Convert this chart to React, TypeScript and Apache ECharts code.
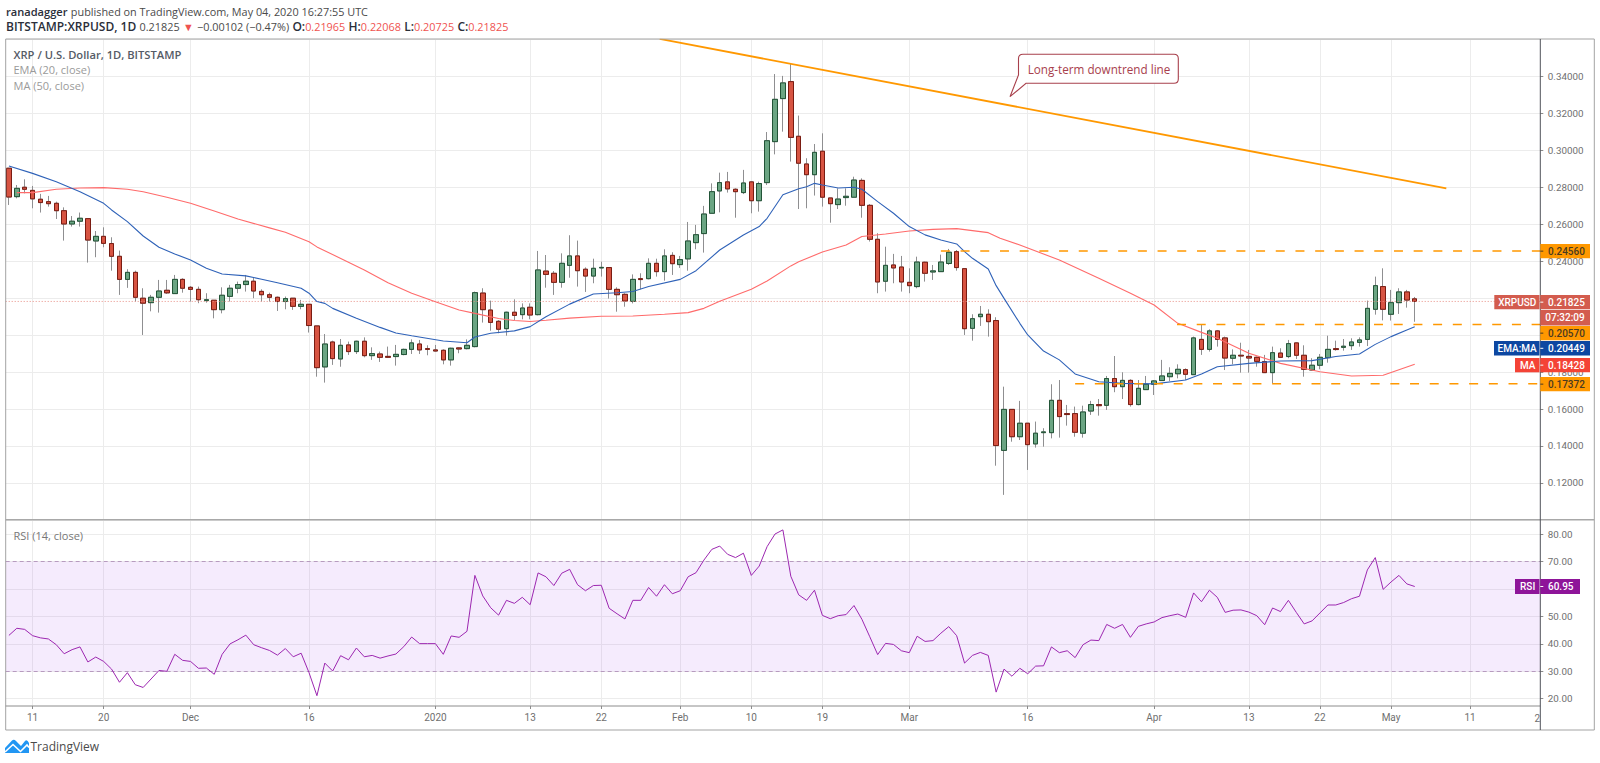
import React, { useEffect, useRef } from "react";
import * as echarts from "echarts";

const ohlc: number[][] = [
[.2904,.2748,.2705,.2906],[.2750,.2795,.2741,.2813],[.2801,.2790,.2768,.2844],[.2784,.2738,.2687,.2808],[.2736,.2718,.2664,.2765],
[.2723,.2712,.2696,.2754],[.2714,.2674,.2629,.2723],[.2674,.2602,.2512,.2692],[.2602,.2617,.2588,.2645],[.2617,.2633,.2588,.2664],
[.2631,.2515,.2393,.2631],[.2510,.2535,.2422,.2564],[.2535,.2497,.2476,.2584],[.2496,.2427,.2349,.2530],[.2427,.2302,.2218,.2458],
[.2302,.2340,.2256,.2357],[.2340,.2205,.2182,.2349],[.2200,.2173,.2001,.2254],[.2176,.2205,.2129,.2218],[.2205,.2239,.2122,.2299],
[.2243,.2229,.2223,.2299],[.2225,.2302,.2223,.2326],[.2302,.2254,.2230,.2308],[.2259,.2248,.2182,.2266],[.2248,.2192,.2173,.2263],
[.2187,.2192,.2176,.2227],[.2189,.2138,.2091,.2190],[.2138,.2216,.2118,.2259],[.2210,.2254,.2182,.2272],[.2254,.2274,.2227,.2290],
[.2274,.2292,.2236,.2326],[.2292,.2239,.2200,.2312],[.2237,.2219,.2182,.2248],[.2219,.2205,.2182,.2230],[.2205,.2182,.2131,.2209],
[.2182,.2198,.2140,.2209],[.2200,.2156,.2137,.2200],[.2156,.2167,.2140,.2191],[.2167,.2052,.2014,.2167],[.2050,.1824,.1775,.2050],
[.1828,.1952,.1743,.2006],[.1963,.1873,.1839,.1970],[.1871,.1945,.1829,.1979],[.1947,.1911,.1893,.1965],[.1911,.1967,.1898,.1970],
[.1967,.1889,.1880,.1988],[.1889,.1900,.1866,.1934],[.1898,.1880,.1855,.1911],[.1885,.1880,.1876,.1938],[.1884,.1896,.1835,.1947],
[.1895,.1923,.1891,.1927],[.1923,.1958,.1898,.1977],[.1952,.1920,.1898,.1974],[.1927,.1923,.1891,.1945],[.1920,.1914,.1911,.1947],
[.1918,.1866,.1842,.1923],[.1866,.1929,.1835,.1932],[.1931,.1925,.1902,.1934],[.1927,.1945,.1923,.1977],[.1938,.2230,.1934,.2236],
[.2228,.2138,.2068,.2254],[.2136,.2069,.2024,.2187],[.2075,.2032,.2010,.2082],[.2035,.2124,.1997,.2127],[.2124,.2107,.2082,.2194],
[.2111,.2147,.2086,.2172],[.2151,.2109,.2086,.2172],[.2111,.2353,.2107,.2456],[.2347,.2329,.2257,.2434],[.2335,.2286,.2218,.2347],
[.2286,.2389,.2257,.2443],[.2378,.2429,.2311,.2541],[.2429,.2349,.2263,.2512],[.2357,.2320,.2234,.2367],[.2320,.2362,.2281,.2414],
[.2364,.2367,.2317,.2398],[.2366,.2248,.2198,.2367],[.2248,.2219,.2127,.2259],[.2221,.2185,.2154,.2227],[.2183,.2302,.2172,.2329],
[.2306,.2301,.2248,.2335],[.2306,.2389,.2302,.2416],[.2389,.2344,.2317,.2414],[.2344,.2429,.2295,.2465],[.2432,.2387,.2326,.2449],
[.2382,.2409,.2364,.2429],[.2413,.2510,.2349,.2613],[.2501,.2544,.2465,.2597],[.2550,.2656,.2447,.2700],[.2660,.2777,.2660,.2822],
[.2781,.2826,.2665,.2880],[.2830,.2792,.2772,.2884],[.2790,.2777,.2636,.2795],[.2772,.2824,.2764,.2895],[.2830,.2728,.2660,.2833],
[.2728,.2821,.2669,.2831],[.2826,.3053,.2813,.3100],[.3048,.3277,.2979,.3414],[.3281,.3366,.3102,.3404],[.3373,.3071,.2940,.3472],
[.3077,.2931,.2683,.3189],[.2927,.2869,.2687,.2958],[.2869,.2990,.2756,.3035],[.2996,.2747,.2696,.3093],[.2743,.2712,.2609,.2743],
[.2707,.2737,.2683,.2795],[.2745,.2752,.2701,.2795],[.2747,.2840,.2747,.2858],[.2838,.2703,.2636,.2849],[.2703,.2519,.2507,.2710],
[.2519,.2288,.2227,.2552],[.2292,.2378,.2236,.2479],[.2380,.2364,.2281,.2440],[.2369,.2288,.2236,.2429],[.2286,.2268,.2227,.2362],
[.2263,.2396,.2254,.2425],[.2395,.2335,.2290,.2398],[.2342,.2348,.2299,.2380],[.2344,.2396,.2344,.2436],[.2388,.2449,.2380,.2467],
[.2452,.2366,.2349,.2461],[.2360,.2035,.2001,.2360],[.2037,.2089,.1970,.2113],[.2100,.2113,.2050,.2158],[.2113,.2073,.1992,.2140],
[.2079,.1402,.1293,.2097],[.1376,.1598,.1135,.1721],[.1598,.1450,.1423,.1598],[.1450,.1523,.1432,.1644],[.1523,.1407,.1270,.1523],
[.1411,.1469,.1391,.1532],[.1472,.1476,.1396,.1496],[.1472,.1647,.1441,.1734],[.1647,.1559,.1445,.1757],[.1575,.1570,.1510,.1622],
[.1575,.1474,.1450,.1613],[.1469,.1584,.1445,.1618],[.1589,.1624,.1568,.1644],[.1624,.1618,.1564,.1654],[.1620,.1765,.1595,.1779],
[.1765,.1721,.1691,.1887],[.1721,.1755,.1654,.1799],[.1755,.1624,.1613,.1761],[.1624,.1712,.1620,.1757],[.1705,.1734,.1703,.1779],
[.1734,.1752,.1676,.1757],[.1754,.1779,.1754,.1866],[.1775,.1793,.1752,.1826],[.1791,.1815,.1766,.1842],[.1813,.1788,.1757,.1820],
[.1786,.1985,.1786,.1992],[.1977,.1923,.1893,.2057],[.1923,.2023,.1911,.2032],[.2023,.1977,.1938,.2028],[.1985,.1876,.1811,.1992],
[.1875,.1891,.1842,.1923],[.1891,.1887,.1797,.1959],[.1885,.1876,.1797,.1920],[.1880,.1858,.1829,.1884],[.1857,.1797,.1797,.1893],
[.1797,.1905,.1739,.1938],[.1903,.1880,.1876,.1929],[.1884,.1954,.1875,.1974],[.1958,.1891,.1871,.1961],[.1891,.1815,.1775,.1945],
[.1811,.1837,.1806,.1875],[.1837,.1880,.1815,.1898],[.1878,.1923,.1851,.1997],[.1927,.1922,.1916,.1970],[.1934,.1940,.1916,.1979],
[.1943,.1963,.1920,.1983],[.1961,.1974,.1938,.1988],[.1977,.2145,.1941,.2187],[.2140,.2268,.2111,.2317],[.2263,.2140,.2080,.2362],
[.2113,.2176,.2079,.2245],[.2176,.2234,.2115,.2254],[.2234,.2190,.2149,.2245],[.21965,.21825,.20725,.22068],
];

const ema: number[][] = [
[0,.2916],[3,.2876],[6,.2831],[9,.2777],[12,.2714],[13,.2678],[15,.2615],[17,.2537],[19,.2476],[21,.2440],[23,.2407],[25,.2362],[27,.2331],[30,.2321],
[32,.2303],[34,.2284],[37,.2254],[38,.2227],[39,.2182],[40,.2172],[41,.2145],[44,.2091],[47,.2042],[49,.2012],[51,.1997],[55,.1968],[58,.1959],[59,.1990],
[61,.2010],[64,.2023],[66,.2046],[68,.2100],[71,.2168],[74,.2223],[77,.2230],[79,.2236],[81,.2263],[85,.2302],[87,.2349],[90,.2461],[93,.2542],[95,.2588],
[96,.2633],[98,.2760],[100,.2793],[101,.2804],[102,.2822],[103,.2813],[105,.2797],[107,.2801],[108,.2790],[110,.2723],[112,.2660],[114,.2588],[116,.2543],
[118,.2515],[120,.2494],[121,.2452],[122,.2416],[124,.2358],[125,.2268],[126,.2199],[128,.2064],[129,.2001],[131,.1914],[133,.1866],[135,.1790],[138,.1748],
[141,.1739],[145,.1736],[149,.1757],[151,.1790],[153,.1829],[157,.1847],[161,.1860],[165,.1862],[168,.1884],[171,.1898],[173,.1950],[175,.1992],[177,.2028],[178,.20449],
];

const ma: number[][] = [
[1,.2772],[3,.2772],[6,.2790],[9,.2797],[12,.2799],[15,.2790],[17,.2777],[20,.2747],[23,.2714],[26,.2672],[29,.2629],[33,.2581],[35,.2557],[38,.2506],[39,.2478],
[45,.2353],[48,.2284],[51,.2227],[54,.2181],[57,.2136],[59,.2118],[62,.2090],[64,.2079],[66,.2074],[68,.2081],[71,.2092],[75,.2102],[79,.2104],[83,.2113],[86,.2122],
[88,.2145],[90,.2184],[94,.2248],[96,.2293],[99,.2375],[100,.2398],[103,.2450],[106,.2488],[108,.2534],[111,.2548],[114,.2564],[117,.2573],[120,.2577],[124,.2555],
[125.5,.2525],[128,.2488],[133,.2407],[138,.2308],[142,.2227],[145,.2163],[148,.2064],[151,.2015],[153,.1983],[157,.1902],[161,.1847],[166,.1802],[170,.1779],[174,.1783],[178,.18428],
];

const rsi: number[] = [
43.1,45.7,45.3,43.0,42.2,41.8,39.7,36.4,37.9,38.9,33.4,35.2,33.6,30.8,26.0,29.5,25.1,24.1,27.2,30.3,
30.0,36.2,34.0,33.6,31.1,31.2,28.9,36.2,40.0,41.5,43.2,39.7,38.6,37.6,35.9,38.3,35.3,36.6,29.5,21.1,
33.0,30.1,35.7,34.2,38.5,35.3,35.8,34.8,35.6,36.3,39.0,42.5,40.1,40.1,40.1,36.2,42.9,42.4,44.6,65.0,
57.5,53.2,50.5,55.9,54.8,57.0,54.3,65.9,64.5,61.3,65.8,67.2,61.6,59.4,61.3,61.4,53.0,51.0,49.1,55.9,
55.9,60.6,57.4,61.6,58.3,59.4,64.5,66.0,70.6,74.5,75.7,72.7,71.5,73.1,65.0,68.4,75.5,80.1,81.6,64.7,
57.9,55.9,59.6,50.4,49.2,50.3,50.7,54.0,49.0,42.6,36.1,40.2,39.8,37.5,36.8,42.8,40.9,41.2,43.9,46.3,
43.0,33.0,35.8,36.9,35.8,22.4,30.8,28.2,31.1,29.1,31.9,32.0,38.9,36.8,37.5,35.0,39.7,41.4,41.2,47.1,
45.7,47.1,42.4,46.4,47.3,48.0,49.6,50.3,50.9,49.7,58.6,55.4,59.6,57.0,51.5,52.3,52.4,51.6,50.3,47.0,
53.1,51.8,55.9,51.5,47.3,48.4,51.3,54.2,54.2,55.1,56.5,57.4,67.0,71.5,59.9,62.6,65.0,61.9,60.95,
];

const trendLine: number[][] = [[82.4,.3604],[182,.2795]];
const levels: number[][] = [[118,.2456],[147.9,.2057],[135,.17372]];
const lastPrice = .21825;
const xTickIdx = [3,12,23,38,54,66,75,85,94,103,114,129,145,157,166,175,185];
const xTickText = ["11","20","Dec","16","2020","13","22","Feb","10","19","Mar","16","Apr","13","22","May","11"];
const rsiTicks = [20,30,40,50,60,70,80];
const coveredPriceLabels = ["0.20000", "0.22000"];

// pixel frame of the two panes
const L = 5.7, R = 1540.3, RIGHT = 1594.3, TOP = 39.7, DIV = 519.8, PB = 706, FB = 730;
const DX = 7.898, X0 = 8.9;
const xMin = (L - X0) / DX, xMax = (R - X0) / DX;
const rsiMax = 80 + (534.3 - DIV) / 2.74, rsiMin = 20 - (PB - 698.7) / 2.74;
const FONT = "Roboto, sans-serif";
const HFONT = '"Open Sans", sans-serif';

echarts.graphic.registerShape("callout", echarts.graphic.extendPath(
  "M1023 54.3 H1174 Q1178.3 54.3 1178.3 58.5 V79 Q1178.3 83.3 1174 83.3 H1026 L1010 96.7 L1018.5 75 V58.5 Q1018.5 54.3 1023 54.3 Z", {}));
echarts.graphic.registerShape("tvlogo", echarts.graphic.extendPath(
  "M5 753 L5 748 L12 740.5 Q14 739 16 741 L21 746 L25 741 Q27 739 29 743 L29 753 Z", {}));

function txt(x: number, y: number, text: string, font: string, fill: string, align = "left", z = 60): any {
  return { type: "text", x, y, z, silent: true, style: { text, font, fill, align, verticalAlign: "middle" } };
}
function box(x: number, y: number, w: number, h: number, fill: string, z = 55): any {
  return { type: "rect", z, silent: true, shape: { x, y, width: w, height: h }, style: { fill } };
}
function hl(x1: number, y: number, x2: number, stroke: string, lw = 1, z = 50): any {
  return { type: "line", z, silent: true, shape: { x1, y1: y, x2, y2: y }, style: { stroke, lineWidth: lw } };
}
function tag(y1: number, y2: number, bg: string, fg: string, value: string, left?: string, leftX?: number, rightX = 1590): any[] {
  const m = (y1 + y2) / 2;
  const tagFont = `500 10px ${FONT}`;
  const out = [box(R, y1, rightX - R, y2 - y1, bg), txt(1548, m, value, tagFont, fg)];
  out.push(hl(R, m, R + 3, fg, 1, 60));
  if (left && leftX != null) {
    out.push(box(leftX, y1, R - leftX - 0.8, y2 - y1, bg));
    out.push(txt((leftX + R) / 2, m, left, tagFont, fg, "center"));
  }
  return out;
}

const headerRich: any = {
  a: { font: `600 11.1px ${HFONT}`, fill: "#2a2e39" },
  b: { font: `600 12px ${HFONT}`, fill: "#2a2e39" },
  n: { font: `400 10.85px ${HFONT}`, fill: "#4a4a4a" },
  r: { font: `400 10.85px ${HFONT}`, fill: "#ef5350" },
};

const graphics: any[] = [
  { type: "text", x: 6, y: 11, z: 60, silent: true, style: { text: "{a|ranadagger} {n|published on TradingView.com, May 04, 2020 16:27:55 UTC}", rich: headerRich, verticalAlign: "middle" } },
  { type: "text", x: 6, y: 26.7, z: 60, silent: true, style: { text: "{b|BITSTAMP:XRPUSD, 1D} {n|0.21825} {r|▼} {n|−0.00102 (−0.47%)} {b|O:}{r|0.21965} {b|H:}{r|0.22068} {b|L:}{r|0.20725} {b|C:}{r|0.21825}", rich: headerRich, verticalAlign: "middle" } },
  txt(13.5, 54, "XRP / U.S. Dollar, 1D, BITSTAMP", `600 11.2px ${HFONT}`, "#555b66"),
  txt(13.5, 69.5, "EMA (20, close)", `400 11px ${HFONT}`, "#9a9a9a"),
  txt(13.5, 85, "MA (50, close)", `400 11px ${HFONT}`, "#9a9a9a"),
  txt(13.5, 535, "RSI (14, close)", `400 11px ${HFONT}`, "#777"),
  // frame
  { type: "rect", z: 50, silent: true, shape: { x: L, y: 39, width: RIGHT - L, height: FB - 39 }, style: { fill: "none", stroke: "#a3a3a3", lineWidth: 1 } },
  hl(L, DIV, RIGHT, "#a8a8a8", 1.6),
  hl(L, PB, R, "#8c8c8c", 1),
  { type: "line", z: 51, silent: true, shape: { x1: R, y1: 39, x2: R, y2: FB }, style: { stroke: "#50535a", lineWidth: 1 } },
  txt(1534.5, 718.5, "2", `10px ${FONT}`, "#6f6f6f"),
  // callout
  { type: "callout", z: 60, silent: true, style: { fill: "#ffffff", stroke: "#a8404c", lineWidth: 1.1 } },
  txt(1099, 68.5, "Long-term downtrend line", `11.7px ${HFONT}`, "#a8404c", "center", 61),
  // price tags
  ...tag(244, 258.3, "#ff9800", "#4a3a20", "0.24560"),
  ...tag(295, 309.3, "#d35c4e", "#ffffff", "0.21825", "XRPUSD", 1494.3),
  box(R, 310, 1590 - R, 15.4, "#d35c4e"),
  txt(1565, 317.7, "07:32:09", `500 10px ${FONT}`, "#ffffff", "center"),
  ...tag(326, 340.3, "#ff9800", "#4a3a20", "0.20570"),
  ...tag(341, 355.6, "#0d47a1", "#ffffff", "0.20449", "EMA:MA", 1494),
  ...tag(358, 372.3, "#f44336", "#ffffff", "0.18428", "MA", 1515),
  ...tag(377, 391.3, "#ff9800", "#4a3a20", "0.17372"),
  ...tag(579, 594, "#8e1599", "#ffffff", "60.95", "RSI", 1515, 1580),
  // logo
  { type: "tvlogo", z: 60, silent: true, style: { fill: "#2196f3" } },
  { type: "polyline", z: 61, silent: true, shape: { points: [[5, 752], [13, 744.5], [20.5, 751.5], [27, 745], [29, 747.5]] }, style: { fill: "none", stroke: "#ffffff", lineWidth: 1.6 } },
  txt(30.5, 746.7, "TradingView", `12px ${HFONT}`, "#4a4a4a"),
];

const GRID = "#ececec";
const AXISTXT = "#6f6f6f";

function buildOption(): any {
  const sharedX = {
    type: "value", min: xMin, max: xMax, axisLine: { show: false, onZero: false },
    splitLine: { show: true, lineStyle: { color: GRID, width: 1 } },
    axisTick: { show: false, customValues: xTickIdx },
  };
  return {
    animation: false,
    backgroundColor: "#ffffff",
    tooltip: { show: false },
    grid: [
      { left: L, top: TOP, width: R - L, height: DIV - TOP, show: false },
      { left: L, top: DIV, width: R - L, height: PB - DIV, show: false },
    ],
    xAxis: [
      { ...sharedX, gridIndex: 0, axisLabel: { show: false, customValues: xTickIdx } },
      {
        ...sharedX, gridIndex: 1,
        axisTick: { show: true, length: 3, customValues: xTickIdx, lineStyle: { color: "#8c8c8c" } },
        axisLabel: {
          show: true, customValues: xTickIdx, margin: 6, color: AXISTXT, fontFamily: FONT, fontSize: 10,
          formatter: (v: number) => xTickText[xTickIdx.indexOf(Math.round(v))] ?? "",
        },
      },
    ],
    yAxis: [
      {
        type: "value", gridIndex: 0, position: "right", min: .10, max: .36, interval: .02,
        axisLine: { show: false, onZero: false },
        axisTick: { show: true, length: 3, lineStyle: { color: "#8c8c8c" } },
        axisLabel: {
          margin: 7.5, color: AXISTXT, fontFamily: FONT, fontSize: 9.8, showMinLabel: false, showMaxLabel: false,
          formatter: (v: number) => (coveredPriceLabels.includes(v.toFixed(5)) ? "" : v.toFixed(5)),
        },
        splitLine: { show: true, lineStyle: { color: GRID } },
      },
      {
        type: "value", gridIndex: 1, position: "right", min: rsiMin, max: rsiMax,
        axisLine: { show: false, onZero: false },
        axisTick: { show: true, length: 3, customValues: rsiTicks, lineStyle: { color: "#8c8c8c" } },
        axisLabel: { customValues: rsiTicks, margin: 7.5, color: AXISTXT, fontFamily: FONT, fontSize: 9.8, formatter: (v: number) => v.toFixed(2) },
        splitLine: { show: true, lineStyle: { color: GRID } },
      },
    ],
    series: [
      {
        // full candles with grey wicks
        type: "candlestick", xAxisIndex: 0, yAxisIndex: 0, barWidth: 5, z: 2,
        data: ohlc.map((c, i) => [i, c[0], c[1], c[2], c[3]]),
        itemStyle: { color: "#6ba583", color0: "#d75442", borderColor: "#8f8f91", borderColor0: "#8f8f91", borderWidth: 1 },
      },
      {
        // bodies with dark outlines, drawn on top of the wicks
        type: "candlestick", xAxisIndex: 0, yAxisIndex: 0, barWidth: 5, z: 3,
        data: ohlc.map((c, i) => [i, c[0], c[1], Math.min(c[0], c[1]), Math.max(c[0], c[1])]),
        itemStyle: { color: "#6ba583", color0: "#d75442", borderColor: "#225437", borderColor0: "#7a1c12", borderWidth: 1 },
      },
      { type: "line", xAxisIndex: 0, yAxisIndex: 0, z: 4, data: [[xMin, lastPrice], [xMax, lastPrice]], showSymbol: false, silent: true, lineStyle: { color: "#e88f85", width: 1, type: [1, 2] } },
      { type: "line", xAxisIndex: 0, yAxisIndex: 0, z: 5, data: ma, showSymbol: false, silent: true, lineStyle: { color: "#ff6b6b", width: 1.1 } },
      { type: "line", xAxisIndex: 0, yAxisIndex: 0, z: 5, data: ema, showSymbol: false, silent: true, lineStyle: { color: "#2f62b8", width: 1.1 } },
      { type: "line", xAxisIndex: 0, yAxisIndex: 0, z: 6, data: trendLine, showSymbol: false, silent: true, lineStyle: { color: "#ff9800", width: 1.8 } },
      ...levels.map((l) => ({
        type: "line", xAxisIndex: 0, yAxisIndex: 0, z: 6, data: [l, [xMax, l[1]]], showSymbol: false, silent: true,
        lineStyle: { color: "#ff9800", width: 1.5, type: [9, 10.7] },
      })),
      {
        type: "line", xAxisIndex: 1, yAxisIndex: 1, z: 5, data: rsi.map((v, i) => [i, v]), showSymbol: false, silent: true,
        lineStyle: { color: "#9c27b0", width: 1 },
        markArea: { silent: true, itemStyle: { color: "rgba(156,60,240,0.10)" }, data: [[{ yAxis: 70 }, { yAxis: 30 }]] },
        markLine: { silent: true, symbol: "none", label: { show: false }, lineStyle: { color: "#b79bbf", type: [4, 3], width: 1 }, data: [{ yAxis: 70 }, { yAxis: 30 }] },
      },
    ],
    graphic: graphics,
  };
}

export default function App() {
  const ref = useRef<HTMLDivElement>(null);
  useEffect(() => {
    const chart = echarts.init(ref.current!, undefined, { renderer: "svg" });
    chart.setOption(buildOption());
    return () => chart.dispose();
  }, []);
  return <div ref={ref} style={{ position: "absolute", left: 0, top: 0, width: 1600, height: 763 }} />;
}
